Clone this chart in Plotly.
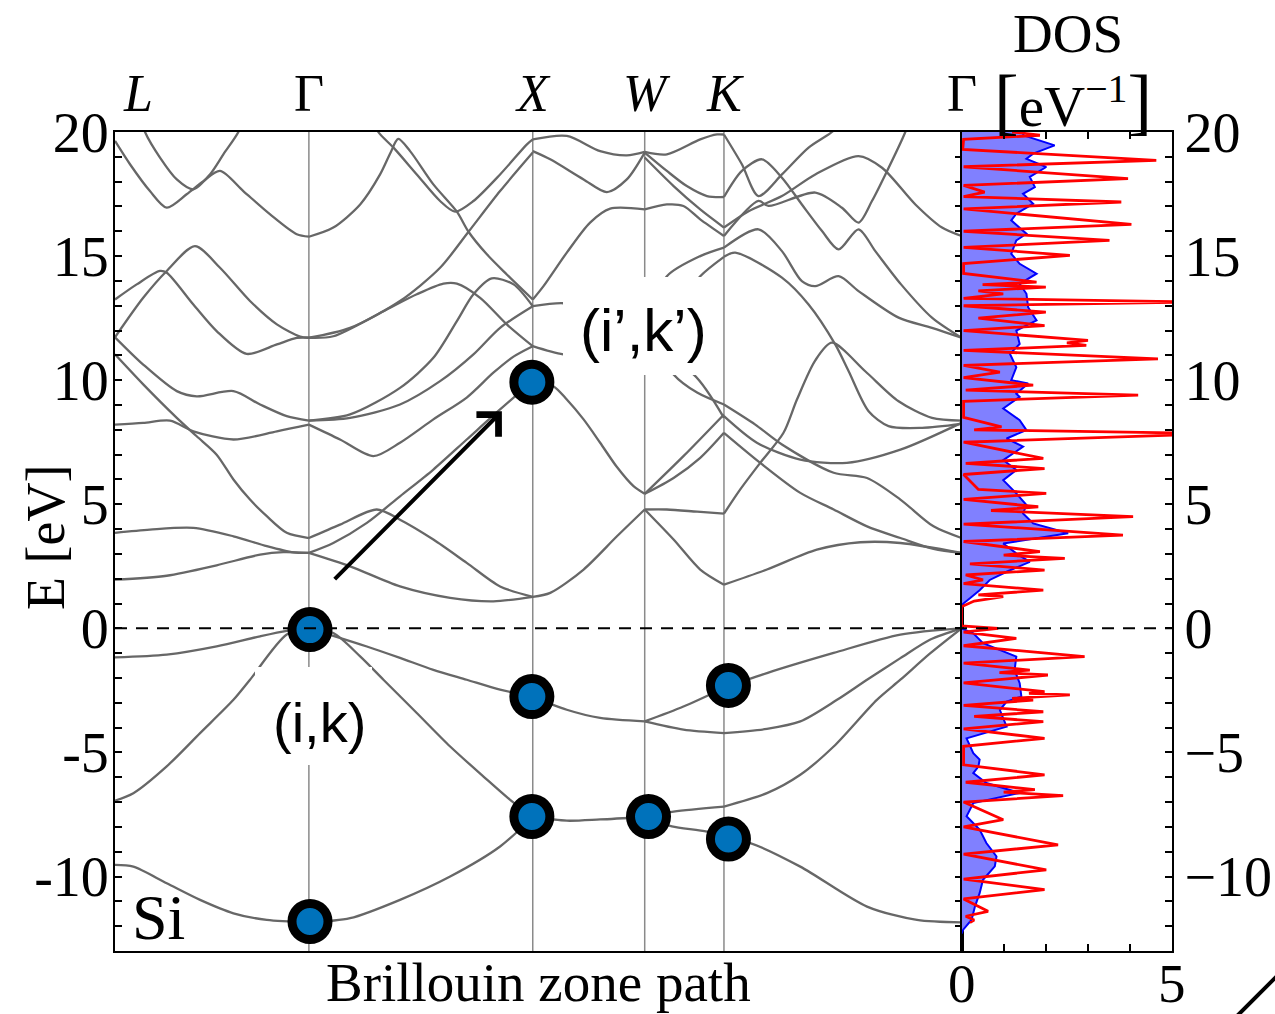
import plotly.graph_objects as go

# ---------------- data ----------------
HS_LABELS = ["<i>L</i>", "Γ", "<i>X</i>", "<i>W</i>", "<i>K</i>", "Γ"]
HS_K = [0.0, 0.866, 1.866, 2.366, 2.720, 3.781]
E_RANGE = [-13, 20]
DOS_RANGE = [0, 5]

Y_TICKS = [-10, -5, 0, 5, 10, 15, 20]
Y_TICKTEXT_LEFT = ["-10", "-5", "0", "5", "10", "15", "20"]
Y_TICKTEXT_RIGHT = ["\u221210", "\u22125", "0", "5", "10", "15", "20"]
Y_MINOR = list(range(-13, 21))
DOS_TICKS = [0, 5]
DOS_TICKTEXT = ["0", "5"]
DOS_MINOR = [1, 2, 3, 4]

# band curves, each a list of [k, E(eV)]
BANDS_L_G = [
    [[0, 19.64], [0.067, 18.70], [0.156, 17.62], [0.231, 16.95], [0.320, 17.49], [0.395, 18.02], [0.469, 18.43], [0.573, 17.62], [0.693, 16.68], [0.812, 15.88], [0.866, 15.78]],
    [[0.12, 20.4], [0.134, 20.0], [0.201, 18.97], [0.276, 18.09], [0.350, 17.69], [0.424, 18.29], [0.484, 19.1], [0.551, 20.0], [0.565, 20.4]],
    [[0, 13.25], [0.097, 13.86], [0.201, 14.40], [0.231, 14.33], [0.350, 13.05], [0.454, 11.98], [0.588, 11.06], [0.723, 11.44], [0.812, 11.70], [0.866, 11.71]],
    [[0, 11.73], [0.126, 13.32], [0.231, 14.40], [0.357, 15.40], [0.469, 14.53], [0.603, 13.19], [0.723, 12.25], [0.827, 11.76], [0.866, 11.71]],
    [[0, 11.73], [0.126, 10.63], [0.276, 9.56], [0.365, 9.35], [0.529, 9.56], [0.648, 9.02], [0.767, 8.55], [0.866, 8.37]],
    [[0, 11.04], [0.126, 9.83], [0.276, 8.48], [0.365, 7.74], [0.454, 7.0], [0.529, 6.0], [0.603, 5.19], [0.678, 4.52], [0.767, 3.85], [0.866, 3.64]],
    [[0, 8.21], [0.126, 8.28], [0.246, 8.37], [0.350, 7.94], [0.529, 7.61], [0.723, 7.94], [0.866, 8.21]],
    [[0, 3.85], [0.156, 3.98], [0.350, 4.05], [0.529, 3.71], [0.678, 3.31], [0.797, 3.06], [0.866, 3.04]],
    [[0, 1.96], [0.231, 2.12], [0.454, 2.54], [0.648, 2.97], [0.752, 3.07], [0.866, 3.04]],
    [[0, -1.17], [0.231, -1.06], [0.454, -0.73], [0.648, -0.32], [0.767, -0.10], [0.866, 0]],
    [[0, -6.94], [0.082, -6.64], [0.231, -5.56], [0.380, -4.22], [0.529, -2.88], [0.603, -2.07], [0.767, -0.25], [0.866, 0]],
    [[0, -9.53], [0.082, -9.6], [0.231, -10.27], [0.380, -10.94], [0.529, -11.48], [0.678, -11.75], [0.866, -11.85]],
]

BANDS_G_X = [
    [[0.866, -11.85], [1.050, -11.68], [1.273, -10.94], [1.497, -10.0], [1.720, -8.79], [1.866, -7.6]],
    [[0.866, 0], [0.975, -0.19], [1.095, -1.13], [1.199, -2.07], [1.348, -3.41], [1.497, -4.76], [1.646, -5.97], [1.765, -6.91], [1.866, -7.6]],
    [[0.866, 0], [0.975, -0.3], [1.125, -0.73], [1.273, -1.19], [1.422, -1.67], [1.571, -2.07], [1.720, -2.47], [1.866, -2.75]],
    [[0.866, 3.04], [1.050, 2.5], [1.273, 1.69], [1.497, 1.23], [1.690, 1.09], [1.866, 1.27]],
    [[0.866, 3.64], [1.005, 4.18], [1.169, 4.79], [1.273, 4.38], [1.422, 3.58], [1.571, 2.64], [1.720, 1.69], [1.866, 1.27]],
    [[0.866, 3.04], [0.975, 3.44], [1.125, 4.25], [1.273, 5.32], [1.422, 6.40], [1.571, 7.61], [1.720, 8.82], [1.866, 9.96]],
    [[0.866, 8.21], [1.005, 7.61], [1.154, 6.94], [1.273, 7.48], [1.422, 8.42], [1.571, 9.3], [1.690, 10.3], [1.780, 10.95], [1.866, 11.37]],
    [[0.866, 11.71], [0.975, 11.77], [1.199, 12.78], [1.348, 13.46], [1.467, 13.89], [1.527, 13.89], [1.631, 13.32], [1.750, 12.25], [1.866, 11.37]],
    [[0.866, 11.71], [1.050, 12.11], [1.273, 13.19], [1.452, 14.53], [1.579, 15.98], [1.720, 17.62], [1.866, 19.17]],
    [[0.866, 15.78], [0.975, 16.15], [1.095, 17.08], [1.184, 18.29], [1.229, 19.13], [1.265, 19.72], [1.318, 19.23], [1.422, 17.89], [1.527, 16.79], [1.579, 15.98], [1.661, 15.07], [1.750, 14.26], [1.866, 13.25]],
    [[1.16, 20.4], [1.176, 20.0], [1.244, 19.37], [1.348, 18.29], [1.452, 17.22], [1.519, 16.79], [1.601, 17.22], [1.720, 18.29], [1.840, 19.5], [1.866, 19.7]],
    [[0.866, 8.37], [1.050, 8.62], [1.273, 9.69], [1.422, 10.9], [1.527, 12.38], [1.601, 13.46], [1.683, 14.1], [1.780, 13.86], [1.866, 12.98]],
    [[0.866, 8.37], [1.050, 8.48], [1.273, 9.02], [1.452, 9.96], [1.601, 11.04], [1.720, 12.11], [1.866, 12.98]],
]

BANDS_X_W = [
    [[1.866, -7.6], [2.018, -7.75], [2.167, -7.7], [2.366, -7.6]],
    [[1.866, -2.75], [2.018, -3.28], [2.167, -3.61], [2.366, -3.75]],
    [[1.866, 1.27], [1.944, 1.43], [2.093, 2.37], [2.242, 3.71], [2.366, 4.79]],
    [[1.866, 9.96], [1.958, 9.76], [2.018, 9.22], [2.093, 8.42], [2.167, 7.48], [2.242, 6.5], [2.316, 5.73], [2.366, 5.42]],
    [[1.866, 13.25], [1.914, 13.79], [2.018, 15.14], [2.122, 16.35], [2.212, 16.91], [2.366, 16.88]],
    [[1.866, 12.98], [2.002, 13.1], [2.167, 12.8], [2.366, 12.3]],
    [[1.866, 11.37], [2.002, 11.04], [2.167, 11.0], [2.366, 11.3]],
    [[1.866, 19.23], [1.944, 18.9], [2.093, 18.09], [2.197, 17.58], [2.286, 18.09], [2.366, 19.17]],
    [[1.866, 19.7], [2.018, 19.84], [2.167, 19.23], [2.286, 19.06], [2.366, 19.2]],
]

BANDS_W_K = [
    [[2.366, -7.6], [2.495, -7.38], [2.720, -7.18]],
    [[2.366, -7.6], [2.487, -7.98], [2.644, -8.19], [2.720, -8.45]],
    [[2.366, -3.75], [2.539, -3.15], [2.720, -2.4]],
    [[2.366, -3.75], [2.539, -4.08], [2.720, -4.22]],
    [[2.366, 4.79], [2.465, 4.79], [2.600, 4.7], [2.720, 4.62]],
    [[2.366, 4.79], [2.495, 3.58], [2.614, 2.37], [2.720, 1.76]],
    [[2.366, 5.42], [2.539, 6.94], [2.720, 8.62]],
    [[2.366, 5.42], [2.495, 6.06], [2.614, 6.87], [2.720, 7.88]],
    [[2.366, 19.2], [2.465, 19.1], [2.614, 19.7], [2.689, 19.9], [2.720, 19.9]],
    [[2.366, 19.17], [2.465, 18.43], [2.554, 17.82], [2.644, 17.42], [2.720, 17.38]],
    [[2.366, 18.97], [2.495, 17.82], [2.614, 16.88], [2.720, 16.15]],
    [[2.366, 16.88], [2.465, 17.08], [2.539, 17.02], [2.614, 16.48], [2.720, 15.81]],
    [[2.366, 12.3], [2.465, 14.19], [2.614, 15.0], [2.720, 15.34]],
    [[2.366, 11.3], [2.500, 12.8], [2.614, 14.19], [2.720, 14.97]],
    [[2.366, 12.3], [2.495, 10.23], [2.600, 9.5], [2.720, 9.02]],
    [[2.366, 11.3], [2.584, 10.23], [2.720, 8.48]],
]

BANDS_K_G = [
    [[2.720, -8.45], [2.837, -8.65], [3.061, -9.6], [3.359, -11.21], [3.582, -11.75], [3.781, -11.85]],
    [[2.720, -7.18], [2.912, -6.64], [3.061, -5.9], [3.210, -4.76], [3.403, -2.88], [3.508, -2.07], [3.642, -1.0], [3.781, 0]],
    [[2.720, -4.22], [2.912, -4.05], [3.061, -3.75], [3.225, -2.88], [3.359, -2.07], [3.508, -1.2], [3.642, -0.45], [3.781, 0]],
    [[2.720, -2.4], [2.912, -1.8], [3.210, -0.99], [3.508, -0.25], [3.781, 0]],
    [[2.720, 1.76], [2.912, 2.37], [3.135, 3.17], [3.329, 3.47], [3.508, 3.44], [3.781, 3.04]],
    [[2.720, 4.62], [2.792, 5.59], [2.882, 6.67], [2.986, 7.88], [3.046, 9.22], [3.128, 10.8], [3.202, 11.51], [3.351, 10.36], [3.500, 9.15], [3.649, 8.48], [3.781, 8.37]],
    [[2.720, 8.55], [2.867, 7.48], [3.061, 6.8], [3.269, 6.67], [3.508, 7.2], [3.781, 8.28]],
    [[2.720, 7.88], [2.882, 6.67], [3.061, 5.46], [3.210, 4.79], [3.359, 4.11], [3.508, 3.64], [3.656, 3.2], [3.781, 3.04]],
    [[2.720, 9.02], [2.860, 8.21], [2.979, 7.41], [3.210, 6.27], [3.359, 6.06], [3.508, 5.19], [3.656, 4.11], [3.781, 3.64]],
    [[2.720, 14.97], [2.770, 15.14], [2.979, 14.13], [3.098, 13.05], [3.217, 11.44], [3.277, 10.36], [3.366, 8.75], [3.455, 8.15], [3.605, 8.08], [3.781, 8.24]],
    [[2.720, 15.34], [2.874, 16.08], [2.979, 15.2], [3.068, 13.99], [3.128, 13.79], [3.232, 14.19], [3.321, 13.59], [3.500, 12.52], [3.649, 12.11], [3.781, 11.71]],
    [[2.720, 15.81], [2.874, 17.22], [2.919, 17.02], [3.128, 17.56], [3.247, 16.95], [3.321, 16.35], [3.381, 17.22], [3.441, 18.29], [3.530, 20.0], [3.545, 20.4]],
    [[2.720, 16.15], [2.830, 16.81], [2.979, 17.42], [3.128, 18.29], [3.321, 19.03], [3.426, 18.56], [3.575, 17.08], [3.694, 16.15], [3.781, 15.81]],
    [[2.720, 17.38], [2.800, 18.43], [2.890, 18.9], [2.979, 18.16], [3.068, 17.08], [3.158, 16.01], [3.232, 15.27], [3.321, 16.08], [3.396, 15.2], [3.511, 13.86], [3.649, 12.52], [3.781, 11.71]],
    [[2.720, 19.9], [2.800, 18.70], [2.874, 17.42], [2.979, 18.29], [3.098, 19.37], [3.202, 20.0], [3.240, 20.4]],
]

# transition points marked on the bands
MARK_K = [0.871, 0.871, 1.862, 1.862, 1.862, 2.383, 2.740, 2.740]
MARK_E = [-0.05, -11.81, 9.92, -2.75, -7.58, -7.58, -2.30, -8.49]

# arrow (i,k) -> (i',k')
ARROW_TAIL = [0.968, 1.86]
ARROW_HEAD = [1.728, 8.75]

# DOS (blue, filled)
DOS_E = [20.0, 19.87, 19.46, 19.13, 18.92, 18.59, 18.19, 17.78, 17.51, 17.11, 16.71, 16.44, 15.90, 15.63, 15.09,
         14.69, 14.29, 13.88, 13.48, 12.94, 12.41, 12.0, 11.46, 11.06, 10.52, 10.0, 9.87, 9.45, 9.33, 8.86, 8.39,
         7.99, 7.65, 7.32, 6.78, 6.38, 5.97, 5.44, 4.97, 4.63, 4.23, 3.83, 3.42, 3.02, 2.68, 2.28, 1.95, 1.54,
         1.21, 0.94, 0.0, -0.2, -0.6, -0.94, -1.14, -1.68, -2.21, -2.75, -2.95, -3.29, -3.96, -4.43, -5.03,
         -5.29, -5.57, -5.83, -6.23, -6.63, -7.04, -7.57, -8.11, -8.65, -9.19, -9.59, -10.13, -10.67, -11.2,
         -11.74, -12.14, -12.3]
DOS_VAL = [1.50, 1.46, 2.21, 1.70, 1.54, 2.01, 1.62, 1.74, 1.46, 1.70, 1.30, 1.18, 1.54, 1.30, 1.18,
           1.38, 1.78, 1.38, 1.54, 1.58, 1.78, 1.30, 1.38, 1.15, 1.30, 1.18, 1.58, 1.30, 1.38, 0.99, 1.38,
           1.54, 1.07, 1.46, 0.99, 1.30, 0.99, 1.30, 1.54, 1.46, 1.70, 2.53, 0.99, 1.30, 1.62, 1.07, 0.67, 0.43,
           0.20, 0.0, 0.0, 0.28, 0.51, 0.99, 1.30, 1.26, 1.38, 1.42, 1.07, 0.91, 1.07, 0.12, 0.28,
           0.43, 0.40, 0.28, 0.59, 1.38, 0.28, 0.12, 0.43, 0.59, 0.83, 0.79, 0.51, 0.43, 0.32,
           0.24, 0.04, 0.0]

# DOS (red, spiky)
QP_E = [20.0, 19.87, 19.7, 19.3, 18.86, 18.6, 18.12, 17.85, 17.58, 17.4, 17.18, 16.9, 16.28, 16.0, 15.63, 15.35,
        15.03, 14.7, 14.3, 13.95, 13.85, 13.75, 13.6, 13.48, 13.3, 13.15, 13.0, 12.74, 12.5, 12.2, 12.0, 11.6,
        11.5, 11.4, 11.2, 10.86, 10.6, 10.32, 10.1, 9.8, 9.6, 9.4, 9.15, 8.5, 8.12, 8.0, 7.85, 7.5, 6.85, 6.65,
        6.44, 6.2, 5.6, 5.44, 5.2, 4.9, 4.75, 4.5, 4.2, 3.76, 3.5, 3.09, 2.95, 2.82, 2.6, 2.35, 2.15, 1.95, 1.8,
        1.54, 1.35, 1.28, 1.1, 0.87, 0.1, 0.0, -0.15, -0.4, -0.7, -1.14, -1.4, -1.68, -1.78, -1.88, -2.2,
        -2.55, -2.62, -2.68, -2.82, -2.89, -3.1, -3.36, -3.55, -3.76, -4.05, -4.43, -4.75, -5.5, -5.9, -6.2,
        -6.5, -6.6, -6.74, -7.0, -7.71, -8.0, -8.72, -9.1, -9.73, -10.1, -10.53, -10.9, -11.4, -11.6, -11.75,
        -11.85]
QP_VAL = [1.2, 1.86, 0.05, 0.03, 4.62, 0.05, 3.95, 0.05, 0.55, 0.05, 3.79, 0.05, 4.03, 0.05, 3.51, 0.05,
          2.57, 0.05, 0.05, 1.78, 0.5, 2.0, 0.4, 0.99, 0.05, 5.6, 0.05, 2.0, 0.4, 1.97, 0.05, 3.0,
          2.5, 2.96, 0.05, 4.66, 0.05, 0.91, 0.05, 1.70, 0.1, 4.19, 0.05, 0.05, 0.95, 0.3, 6.2, 0.05, 1.94, 0.1,
          1.97, 0.05, 0.4, 2.01, 0.05, 1.82, 0.7, 4.07, 0.05, 3.83, 0.05, 1.86, 1.0, 2.45, 0.2, 1.97, 0.1, 0.51, 0.05,
          1.94, 0.4, 0.99, 0.3, 0.0, 0.0, 0.87, 0.05, 1.3, 0.05, 2.92, 0.05, 1.62, 0.9, 2.05, 0.05,
          1.97, 1.6, 2.57, 1.2, 1.70, 0.05, 1.94, 0.3, 1.94, 0.05, 1.97, 0.05, 0.05, 1.97, 0.1,
          1.74, 1.0, 2.41, 0.05, 0.99, 0.05, 2.29, 0.05, 2.01, 0.05, 1.97, 0.05, 0.63, 0.1, 0.3,
          0.2]

# ---------------- layout geometry (pixels) ----------------
FIG_W, FIG_H = 1275, 1014
X_MAIN = (115, 961.5)
X_DOS = (961.5, 1172.3)
Y_PLOT = (132, 951)  # top, bottom


def px_x(p):
    return p / FIG_W


def px_y(p):
    return 1 - p / FIG_H


SERIF = "Liberation Serif"
SANS = "Liberation Sans"
BAND_COLOR = "#676767"

fig = go.Figure()

for segment in (BANDS_L_G, BANDS_G_X, BANDS_X_W, BANDS_W_K, BANDS_K_G):
    for curve in segment:
        fig.add_trace(go.Scatter(
            x=[p[0] for p in curve], y=[p[1] for p in curve],
            mode="lines", line=dict(color=BAND_COLOR, width=2.3, shape="spline", smoothing=0.8),
            hoverinfo="skip", showlegend=False, xaxis="x", yaxis="y"))

fig.add_trace(go.Scatter(
    x=MARK_K, y=MARK_E, mode="markers",
    marker=dict(size=36, color="#0072bb", line=dict(color="black", width=9)),
    cliponaxis=False, showlegend=False, hoverinfo="skip", xaxis="x", yaxis="y"))

# DOS panel
fig.add_trace(go.Scatter(
    x=DOS_VAL, y=DOS_E, mode="lines", fill="tozerox", fillcolor="rgb(128,128,255)",
    line=dict(color="rgb(0,0,255)", width=2), showlegend=False, hoverinfo="skip",
    xaxis="x2", yaxis="y2"))
fig.add_trace(go.Scatter(
    x=QP_VAL, y=QP_E, mode="lines", line=dict(color="rgb(255,0,0)", width=2.8),
    showlegend=False, hoverinfo="skip", xaxis="x2", yaxis="y2"))

tickfont = dict(family=SERIF, size=56, color="black")
common = dict(automargin=False, showgrid=False, zeroline=False, showline=True,
              linecolor="black", linewidth=2)
tick_style = dict(ticks="inside", ticklen=7, tickwidth=1.5, tickcolor="black")

fig.update_layout(
    width=FIG_W, height=FIG_H,
    margin=dict(l=0, r=0, t=0, b=0, autoexpand=False),
    paper_bgcolor="white", plot_bgcolor="white",
    showlegend=False,
    xaxis=dict(domain=[px_x(X_MAIN[0]), px_x(X_MAIN[1])], range=[HS_K[0], HS_K[-1]],
               showticklabels=False, ticks="", mirror=True, **common),
    yaxis=dict(domain=[px_y(Y_PLOT[1]), px_y(Y_PLOT[0])], range=E_RANGE,
               tickmode="array", tickvals=Y_TICKS, ticktext=Y_TICKTEXT_LEFT,
               minor=dict(tickmode="array", tickvals=Y_MINOR, **tick_style),
               tickfont=tickfont, mirror="ticks", ticklabelstandoff=-7, **tick_style, **common),
    xaxis2=dict(domain=[px_x(X_DOS[0]), px_x(X_DOS[1])], range=DOS_RANGE, anchor="y2",
                tickmode="array", tickvals=DOS_TICKS, showticklabels=False,
                minor=dict(tickmode="array", tickvals=DOS_MINOR, **tick_style),
                mirror="ticks", **tick_style, **common),
    yaxis2=dict(domain=[px_y(Y_PLOT[1]), px_y(Y_PLOT[0])], range=E_RANGE, anchor="x2", side="right",
                tickmode="array", tickvals=Y_TICKS, ticktext=Y_TICKTEXT_RIGHT,
                minor=dict(tickmode="array", tickvals=Y_MINOR, **tick_style),
                tickfont=tickfont, mirror=True, ticklabelstandoff=-1, **tick_style, **common),
)

shapes = []
for k in HS_K[1:-1]:
    shapes.append(dict(type="line", xref="x", yref="paper", x0=k, x1=k,
                       y0=px_y(Y_PLOT[1]), y1=px_y(Y_PLOT[0]),
                       line=dict(color="#8a8a8a", width=1.5), layer="below"))
# white boxes behind the labels
shapes.append(dict(type="rect", xref="paper", yref="paper",
                   x0=px_x(255), x1=px_x(372), y0=px_y(765), y1=px_y(667),
                   fillcolor="white", line=dict(width=0), layer="above"))
shapes.append(dict(type="rect", xref="paper", yref="paper",
                   x0=px_x(563), x1=px_x(714), y0=px_y(375), y1=px_y(277),
                   fillcolor="white", line=dict(width=0), layer="above"))
# Fermi level
shapes.append(dict(type="line", xref="paper", yref="y", x0=px_x(X_MAIN[0]), x1=px_x(X_DOS[1]),
                   y0=0, y1=0, line=dict(color="black", width=2, dash="12px,9px"), layer="above"))
# corner stroke
shapes.append(dict(type="line", xref="paper", yref="paper", x0=px_x(1236), x1=px_x(1280),
                   y0=px_y(1017), y1=px_y(973), line=dict(color="black", width=4)))
fig.update_layout(shapes=shapes)

ann = []
label_shift = [23, 0, 0, 2, 1, 0]
for lab, k, sh in zip(HS_LABELS, HS_K, label_shift):
    ann.append(dict(text=lab, x=k, xref="x", y=px_y(93), yref="paper", showarrow=False,
                    xanchor="center", yanchor="middle", xshift=sh,
                    font=dict(family=SERIF, size=52, color="black")))
for v, t in zip(DOS_TICKS, DOS_TICKTEXT):
    ann.append(dict(text=t, x=v, xref="x2", y=px_y(983), yref="paper", showarrow=False,
                    xanchor="center", yanchor="middle",
                    font=dict(family=SERIF, size=55, color="black")))
ann.append(dict(text="E [eV]", x=px_x(46), y=px_y(538), xref="paper", yref="paper", showarrow=False,
                textangle=-90, xanchor="center", yanchor="middle",
                font=dict(family=SERIF, size=54, color="black")))
ann.append(dict(text="Brillouin zone path", x=px_x(538), y=px_y(982), xref="paper", yref="paper",
                showarrow=False, xanchor="center", yanchor="middle",
                font=dict(family=SERIF, size=55, color="black")))
ann.append(dict(text="DOS", x=px_x(1068), y=px_y(33), xref="paper", yref="paper", showarrow=False,
                xanchor="center", yanchor="middle", font=dict(family=SERIF, size=55, color="black")))
ann.append(dict(text="<span style='font-size:74px'>[</span>eV<sup>\u22121</sup><span style='font-size:74px'>]</span>",
                x=px_x(1073), y=px_y(101), xref="paper", yref="paper",
                showarrow=False, xanchor="center", yanchor="middle",
                font=dict(family=SERIF, size=57, color="black")))
ann.append(dict(text="Si", x=px_x(158), y=px_y(917), xref="paper", yref="paper", showarrow=False,
                xanchor="center", yanchor="middle", font=dict(family=SERIF, size=64, color="black")))
ann.append(dict(text="(i,k)", x=px_x(319), y=px_y(722), xref="paper", yref="paper", showarrow=False,
                xanchor="center", yanchor="middle", font=dict(family=SANS, size=56, color="black")))
ann.append(dict(text="(i\u2019,k\u2019)", x=px_x(643), y=px_y(330), xref="paper", yref="paper",
                showarrow=False, xanchor="center", yanchor="middle",
                font=dict(family=SANS, size=60, color="black")))
ann.append(dict(text=" ", x=ARROW_HEAD[0], y=ARROW_HEAD[1], xref="x", yref="y",
                ax=ARROW_TAIL[0], ay=ARROW_TAIL[1], axref="x", ayref="y",
                showarrow=True, arrowhead=4, arrowsize=1.5, arrowwidth=4, arrowcolor="black"))
fig.update_layout(annotations=ann)

fig.write_html("out.html", config={"displayModeBar": False},
               post_script="document.body.style.margin='0';document.body.style.overflow='hidden';")
